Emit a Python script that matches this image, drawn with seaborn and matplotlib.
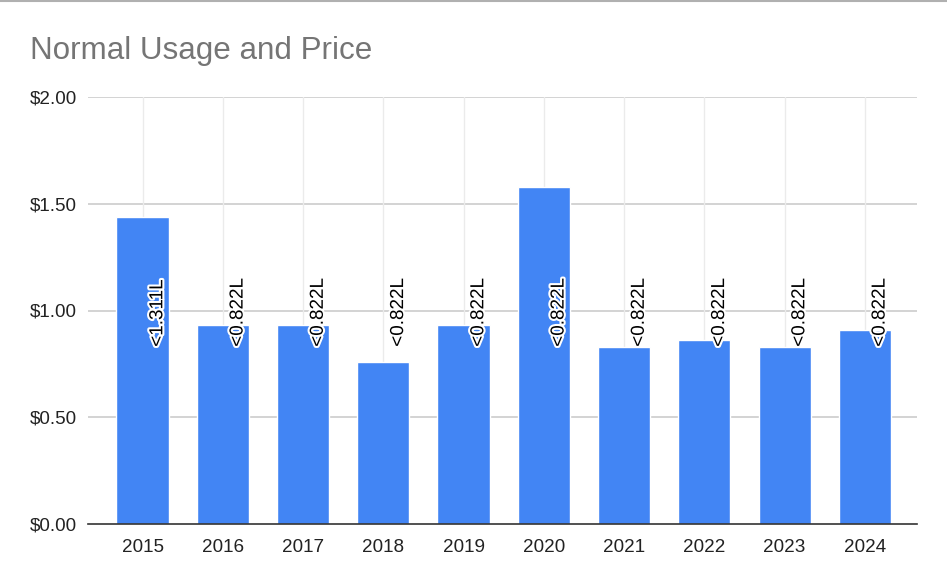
import matplotlib
matplotlib.use("Agg")
import matplotlib.pyplot as plt
import matplotlib.patheffects as pe
import seaborn as sns
import pandas as pd
from matplotlib.lines import Line2D

years = ["2015", "2016", "2017", "2018", "2019", "2020", "2021", "2022", "2023", "2024"]
prices = [1.44, 0.93, 0.93, 0.76, 0.93, 1.58, 0.83, 0.86, 0.83, 0.91]
usage_labels = ["<1.311L", "<0.822L", "<0.822L", "<0.822L", "<0.822L",
                "<0.822L", "<0.822L", "<0.822L", "<0.822L", "<0.822L"]
label_level = 0.83
yticks = [0.0, 0.5, 1.0, 1.5, 2.0]
ytick_labels = ["$0.00", "$0.50", "$1.00", "$1.50", "$2.00"]

df = pd.DataFrame({"year": years, "price": prices})

sns.set_theme(style="white")
plt.rcParams["font.family"] = ["Liberation Sans", "DejaVu Sans"]

fig = plt.figure(figsize=(9.47, 5.86), dpi=100)
ax = fig.add_axes([88 / 947, 1 - 524 / 586, (917 - 88) / 947, (524 - 97) / 586])

sns.barplot(data=df, x="year", y="price", color="#4285F4", width=0.65,
            saturation=1, ax=ax, zorder=3)

ax.set_xlim(-0.68, 9.65)
ax.set_ylim(0, 2)
ax.set_yticks(yticks)
ax.set_yticklabels(ytick_labels)
ax.set_xlabel("")
ax.set_ylabel("")

for y in yticks[1:]:
    ax.axhline(y, color="#cccccc", lw=1.2, zorder=1)
for i in range(len(years)):
    ax.axvline(i, color="#ebebeb", lw=1, zorder=1)

for s in ["top", "right", "left"]:
    ax.spines[s].set_visible(False)
ax.spines["bottom"].set_color("#333333")
ax.spines["bottom"].set_linewidth(1.2)
ax.spines["bottom"].set_zorder(5)

ax.tick_params(axis="both", length=0, labelsize=13.6, colors="#222222")
ax.tick_params(axis="y", pad=8)
ax.tick_params(axis="x", pad=10.5)

for i, lab in enumerate(usage_labels):
    ax.text(i + 0.19, label_level, lab, rotation=90, ha="center", va="bottom",
            fontsize=13.6, color="black", zorder=6,
            path_effects=[pe.withStroke(linewidth=3, foreground="white")])

fig.text(30 / 947, 1 - 59 / 586, "Normal Usage and Price", fontsize=22.6,
         color="#757575", ha="left", va="baseline")

fig.add_artist(Line2D([0, 1], [0.999, 0.999], transform=fig.transFigure,
                      color="#b0b0b0", lw=1.5))

fig.savefig("out.png", dpi=100)
